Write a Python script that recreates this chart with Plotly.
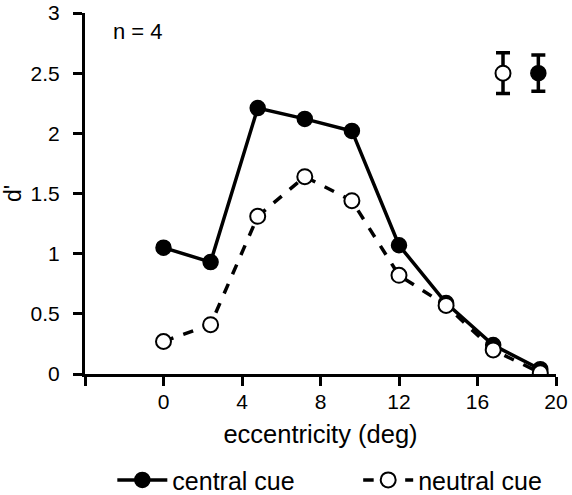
import plotly.graph_objects as go

ecc = [0, 2.4, 4.8, 7.2, 9.6, 12, 14.4, 16.8, 19.2]
central = [1.05, 0.93, 2.21, 2.12, 2.02, 1.07, 0.59, 0.24, 0.04]
neutral = [0.27, 0.41, 1.31, 1.64, 1.44, 0.82, 0.57, 0.20, 0.01]

err_x = [17.3, 19.1]
err_y = [2.5, 2.5]
err_size = [0.17, 0.15]

FONT = "Liberation Sans, Arial, sans-serif"

fig = go.Figure()
fig.add_trace(go.Scatter(
    x=ecc, y=central, mode="lines+markers", name="central cue", legend="legend",
    line=dict(color="black", width=3.5),
    marker=dict(symbol="circle", size=15, color="black", line=dict(color="black", width=1.5)),
))
fig.add_trace(go.Scatter(
    x=ecc, y=neutral, mode="lines+markers", name="neutral cue", legend="legend2",
    line=dict(color="black", width=3.5, dash="dash"),
    marker=dict(symbol="circle", size=15, color="white", line=dict(color="black", width=2)),
))
fig.add_trace(go.Scatter(
    x=[err_x[0]], y=[err_y[0]], mode="markers", showlegend=False,
    marker=dict(symbol="circle", size=15, color="white", line=dict(color="black", width=2)),
    error_y=dict(type="data", array=[err_size[0]], color="black", thickness=3.5, width=7),
))
fig.add_trace(go.Scatter(
    x=[err_x[1]], y=[err_y[1]], mode="markers", showlegend=False,
    marker=dict(symbol="circle", size=15, color="black", line=dict(color="black", width=1.5)),
    error_y=dict(type="data", array=[err_size[1]], color="black", thickness=3.5, width=7),
))

fig.add_annotation(x=-2.65, y=2.85, text="n = 4", showarrow=False, xanchor="left",
                   font=dict(family=FONT, size=22, color="black"))

legend_style = dict(orientation="h", xanchor="left", y=-0.294, yanchor="middle",
                    font=dict(family=FONT, size=25, color="black"), itemwidth=50,
                    bgcolor="rgba(0,0,0,0)", borderwidth=0)

fig.update_layout(
    width=572, height=495,
    margin=dict(l=85, r=16, t=13, b=121, autoexpand=False),
    plot_bgcolor="white", paper_bgcolor="white",
    font=dict(family=FONT, size=20, color="black"),
    showlegend=True,
    legend=dict(x=0.058, **legend_style),
    legend2=dict(x=0.58, **legend_style),
    xaxis=dict(range=[-4, 20], tickvals=[-4, 0, 4, 8, 12, 16, 20],
               ticktext=["", "0", "4", "8", "12", "16", "20"],
               showline=True, linecolor="black", linewidth=3,
               ticks="outside", ticklen=9, tickwidth=3, tickcolor="black",
               showgrid=False, zeroline=False, automargin=False,
               tickfont=dict(size=21), ticklabelstandoff=-2,
               title=dict(text="eccentricity (deg)", font=dict(size=25.5), standoff=13)),
    yaxis=dict(range=[0, 3], tickvals=[0, 0.5, 1, 1.5, 2, 2.5, 3],
               ticktext=["0", "0.5", "1", "1.5", "2", "2.5", "3"],
               showline=True, linecolor="black", linewidth=3,
               ticks="outside", ticklen=9, tickwidth=3, tickcolor="black",
               showgrid=False, zeroline=False, automargin=False,
               tickfont=dict(size=21), ticklabelstandoff=9,
               title=dict(text="d'", font=dict(size=23), standoff=5)),
)
fig.write_html("out.html", config={"displayModeBar": False},
               post_script="document.body.style.margin='0px';document.documentElement.style.overflow='hidden';")
